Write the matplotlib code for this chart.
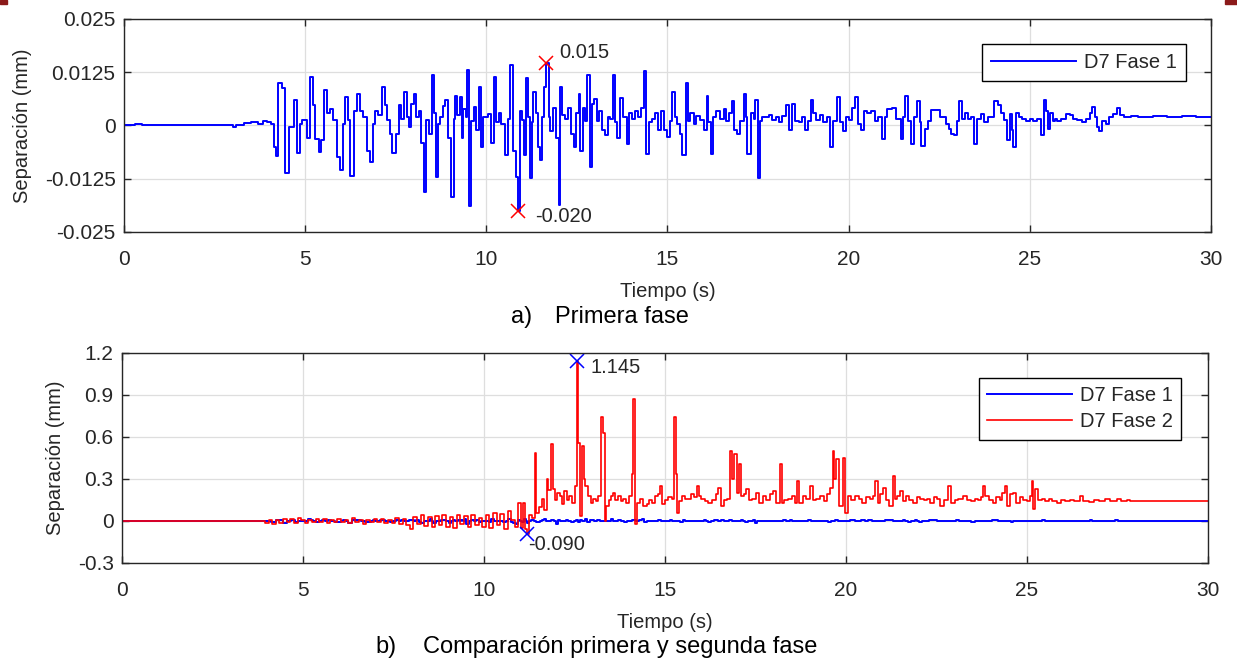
import numpy as np
import matplotlib
matplotlib.use('Agg')
import matplotlib.pyplot as plt
from matplotlib.patches import Rectangle

# Fase 1 (tiempo s, separacion mm)
t1 = [0.0, 0.3, 0.5, 0.8, 1.0, 1.2, 3.0, 3.1, 3.3, 3.5, 3.7, 3.85, 3.95, 4.05,
      4.13, 4.2, 4.26, 4.35, 4.45, 4.55, 4.68, 4.77, 4.85, 4.92, 5.05, 5.14, 5.22,
      5.28, 5.37, 5.45, 5.53, 5.6, 5.7, 5.78, 5.88, 5.97, 6.05, 6.1, 6.18, 6.24,
      6.35, 6.43, 6.52, 6.6, 6.7, 6.8, 6.88, 6.93, 7.0, 7.12, 7.2, 7.26, 7.33,
      7.4, 7.5, 7.58, 7.65, 7.72, 7.8, 7.86, 7.93, 8.0, 8.07, 8.13, 8.2, 8.27,
      8.35, 8.41, 8.5, 8.55, 8.6, 8.67, 8.73, 8.8, 8.87, 8.95, 9.03, 9.1, 9.14,
      9.2, 9.28, 9.33, 9.37, 9.43, 9.47, 9.51, 9.58, 9.65, 9.72, 9.79, 9.85,
      9.92, 10.0, 10.06, 10.13, 10.2, 10.28, 10.35, 10.42, 10.53, 10.6, 10.66,
      10.75, 10.81, 10.88, 10.94, 11.0, 11.05, 11.1, 11.15, 11.2, 11.25, 11.3,
      11.38, 11.44, 11.49, 11.55, 11.6, 11.66, 11.72, 11.77, 11.85, 11.93, 12.0,
      12.04, 12.1, 12.18, 12.26, 12.33, 12.41, 12.48, 12.55, 12.6, 12.66, 12.72,
      12.78, 12.85, 12.92, 12.98, 13.05, 13.12, 13.2, 13.29, 13.35, 13.42, 13.5,
      13.56, 13.62, 13.7, 13.78, 13.88, 13.95, 14.02, 14.1, 14.2, 14.28, 14.36,
      14.42, 14.5, 14.58, 14.66, 14.74, 14.81, 14.9, 14.99, 15.06, 15.13, 15.2,
      15.27, 15.34, 15.41, 15.5, 15.56, 15.63, 15.72, 15.8, 15.9, 16.0, 16.08,
      16.13, 16.19, 16.27, 16.35, 16.45, 16.55, 16.63, 16.7, 16.78, 16.85, 16.92,
      17.0, 17.11, 17.16, 17.2, 17.3, 17.38, 17.43, 17.49, 17.55, 17.62, 17.7,
      17.8, 17.9, 18.0, 18.08, 18.17, 18.26, 18.35, 18.44, 18.52, 18.62, 18.72,
      18.8, 18.88, 18.95, 19.02, 19.1, 19.2, 19.3, 19.4, 19.5, 19.58, 19.69,
      19.77, 19.85, 19.92, 20.01, 20.1, 20.19, 20.26, 20.34, 20.42, 20.52, 20.62,
      20.72, 20.8, 20.93, 21.0, 21.07, 21.2, 21.3, 21.44, 21.5, 21.57, 21.64,
      21.71, 21.8, 21.9, 21.96, 22.01, 22.1, 22.2, 22.28, 22.45, 22.52, 22.6,
      22.7, 22.77, 22.84, 22.91, 23.0, 23.05, 23.12, 23.2, 23.3, 23.38, 23.46,
      23.55, 23.65, 23.75, 23.85, 23.95, 24.02, 24.12, 24.2, 24.3, 24.38, 24.45,
      24.5, 24.55, 24.62, 24.7, 24.8, 24.9, 25.0, 25.1, 25.2, 25.3, 25.4, 25.45,
      25.5, 25.56, 25.63, 25.7, 25.76, 25.85, 25.99, 26.1, 26.2, 26.3, 26.45,
      26.55, 26.65, 26.73, 26.8, 26.87, 26.92, 27.0, 27.1, 27.2, 27.3, 27.42,
      27.5, 27.6, 27.8, 28.0, 28.4, 28.8, 29.2, 29.6, 30.0]
d1 = [0.0, 0.0003, 0.0, 0.0002, 0.0, 0.0, -0.0004, 0.0, 0.0006, 0.0008, 0.0004,
      0.001, 0.0008, 0.0004, -0.005, -0.0072, 0.0099, 0.0088, -0.0111, -0.0004,
      0.006, -0.0064, 0.0004, 0.0012, -0.0029, 0.0114, 0.0047, -0.0031, -0.0062,
      -0.0035, 0.0083, 0.003, 0.0039, 0.0012, -0.0074, -0.0105, 0.0004, 0.0066,
      0.0012, -0.0118, 0.0035, 0.0074, 0.0035, 0.002, -0.006, -0.0085, 0.0004,
      0.0035, 0.0025, 0.0091, 0.0047, 0.0012, -0.002, -0.0064, -0.002, 0.0047,
      0.0016, 0.0078, 0.002, -0.0004, 0.005, 0.0074, 0.002, 0.0035, -0.004,
      -0.0157, 0.0012, -0.002, 0.0118, 0.003, -0.012, 0.0004, 0.002, 0.0045,
      0.006, -0.003, -0.0167, 0.0016, 0.007, 0.0025, 0.0067, -0.003, 0.0039,
      0.002, 0.013, -0.019, 0.001, 0.0043, -0.001, 0.0091, -0.005, 0.002, 0.002,
      0.0027, -0.004, 0.0114, 0.0008, 0.003, 0.0004, -0.007, 0.0016, 0.0143,
      -0.006, -0.012, -0.0201, 0.0035, 0.0012, -0.007, 0.0112, 0.002, -0.0124,
      0.0008, 0.0078, 0.003, -0.005, -0.008, 0.002, 0.009, 0.0146, 0.002,
      -0.0012, 0.004, -0.003, -0.0186, 0.009, 0.0025, 0.0016, 0.004, -0.002,
      -0.005, 0.003, 0.0074, -0.006, 0.004, 0.001, 0.0118, -0.0097, 0.005,
      0.0062, 0.001, 0.0035, -0.001, -0.0023, 0.002, 0.0016, 0.0118, 0.0008,
      -0.003, 0.0065, 0.002, -0.0043, 0.003, 0.0016, 0.0035, 0.002, 0.004,
      0.0128, -0.0066, 0.0008, 0.0015, 0.003, -0.001, 0.0035, -0.001, -0.0027,
      0.001, 0.0078, 0.002, 0.0004, -0.002, -0.007, 0.01, 0.001, 0.003, 0.0004,
      0.0023, 0.0012, -0.001, 0.007, 0.0008, -0.0066, 0.002, 0.0035, 0.0016,
      0.0039, 0.001, 0.003, 0.0058, -0.001, -0.002, 0.001, 0.0074, 0.002,
      -0.0066, 0.003, 0.0016, 0.006, -0.0124, 0.001, 0.002, 0.002, 0.0025,
      0.0012, 0.002, 0.0008, 0.0023, 0.0047, -0.001, 0.005, 0.001, 0.0008,
      0.002, -0.001, 0.001, 0.006, 0.003, 0.0012, 0.0025, 0.0008, 0.002, -0.005,
      0.001, 0.0068, 0.0008, -0.0012, 0.002, 0.0012, 0.004, 0.0068, 0.0004,
      -0.001, 0.0035, 0.003, 0.0035, 0.001, 0.002, -0.0031, 0.002, 0.0039,
      0.0042, 0.0015, -0.0031, 0.002, 0.007, 0.001, -0.0043, 0.002, 0.0058,
      0.0008, -0.0047, -0.0008, 0.001, 0.0036, 0.0036, 0.002, 0.002, 0.0004,
      -0.0008, -0.002, -0.0023, 0.001, 0.0058, 0.0016, 0.003, 0.0016, 0.002,
      -0.0043, 0.0016, 0.0027, 0.0008, 0.002, 0.002, 0.0058, 0.0047, 0.003,
      0.0012, -0.0034, 0.0027, -0.001, -0.005, 0.003, 0.002, 0.0016, 0.001,
      0.0016, 0.001, 0.0016, -0.0023, 0.006, 0.0035, -0.0008, 0.003, 0.001,
      0.0016, 0.001, 0.0016, 0.0027, 0.0025, 0.0016, 0.0012, 0.0008, 0.0016,
      0.003, 0.0043, 0.002, -0.0004, -0.0012, 0.001, 0.0004, 0.002, 0.0027,
      0.004, 0.0025, 0.002, 0.0023, 0.002, 0.0022, 0.002, 0.0022, 0.002, 0.002]

# Fase 2
t2 = [0.0, 3.86, 3.95, 4.05, 4.15, 4.25, 4.35, 4.45, 4.55, 4.65, 4.75, 4.85,
      4.95, 5.05, 5.15, 5.25, 5.35, 5.45, 5.55, 5.65, 5.75, 5.85, 5.95, 6.05,
      6.15, 6.25, 6.35, 6.45, 6.55, 6.65, 6.75, 6.85, 6.95, 7.05, 7.15, 7.25,
      7.35, 7.45, 7.55, 7.65, 7.75, 7.85, 7.95, 8.05, 8.15, 8.25, 8.35, 8.45,
      8.55, 8.65, 8.75, 8.85, 8.95, 9.05, 9.15, 9.25, 9.35, 9.45, 9.55, 9.65,
      9.75, 9.85, 9.95, 10.05, 10.15, 10.25, 10.35, 10.45, 10.55, 10.65, 10.75,
      10.85, 10.95, 11.02, 11.09, 11.14, 11.18, 11.25, 11.32, 11.4, 11.45, 11.52,
      11.59, 11.65, 11.73, 11.78, 11.84, 11.9, 11.97, 12.03, 12.1, 12.16, 12.22,
      12.28, 12.35, 12.42, 12.5, 12.56, 12.6, 12.65, 12.7, 12.75, 12.8, 12.88,
      12.95, 13.02, 13.1, 13.16, 13.22, 13.3, 13.33, 13.38, 13.45, 13.5, 13.57,
      13.63, 13.7, 13.78, 13.85, 13.93, 14.0, 14.08, 14.12, 14.17, 14.22, 14.3,
      14.38, 14.49, 14.56, 14.63, 14.72, 14.8, 14.86, 14.93, 15.0, 15.08, 15.19,
      15.26, 15.3, 15.34, 15.4, 15.47, 15.55, 15.63, 15.72, 15.8, 15.87, 15.93,
      16.0, 16.1, 16.2, 16.3, 16.4, 16.47, 16.55, 16.62, 16.7, 16.8, 16.86, 16.9,
      16.98, 17.03, 17.1, 17.18, 17.25, 17.32, 17.4, 17.5, 17.6, 17.7, 17.8,
      17.9, 17.99, 18.07, 18.17, 18.22, 18.3, 18.4, 18.5, 18.58, 18.64, 18.7,
      18.8, 18.9, 19.0, 19.08, 19.18, 19.28, 19.38, 19.48, 19.56, 19.63, 19.68,
      19.72, 19.8, 19.91, 19.96, 20.05, 20.15, 20.25, 20.35, 20.45, 20.55, 20.65,
      20.75, 20.8, 20.88, 20.95, 21.03, 21.1, 21.2, 21.29, 21.35, 21.42, 21.49,
      21.57, 21.65, 21.75, 21.85, 21.95, 22.05, 22.15, 22.25, 22.32, 22.42,
      22.52, 22.6, 22.7, 22.83, 22.9, 23.0, 23.1, 23.24, 23.35, 23.45, 23.55,
      23.65, 23.72, 23.79, 23.85, 23.95, 24.05, 24.15, 24.25, 24.32, 24.39,
      24.45, 24.52, 24.6, 24.7, 24.8, 24.9, 25.0, 25.08, 25.13, 25.17, 25.22,
      25.3, 25.4, 25.5, 25.6, 25.7, 25.82, 25.95, 26.05, 26.2, 26.3, 26.47,
      26.55, 26.7, 26.85, 27.0, 27.15, 27.3, 27.48, 27.6, 27.75, 27.85, 30.0]
d2 = [0.0, 0.0, -0.015, 0.01, -0.02, 0.005, -0.012, 0.015, -0.01, 0.012, -0.015,
      0.02, 0.005, -0.012, 0.01, -0.008, 0.015, -0.01, 0.012, -0.015, 0.008,
      -0.005, 0.012, -0.01, 0.01, -0.015, 0.018, -0.008, 0.005, -0.02, 0.01,
      -0.005, 0.012, -0.01, 0.015, -0.012, 0.008, -0.015, 0.02, -0.025, 0.015,
      -0.03, -0.06, 0.03, -0.02, 0.04, -0.035, 0.025, -0.045, 0.035, -0.03,
      0.045, -0.04, 0.03, -0.05, 0.04, -0.025, 0.035, -0.045, 0.045, -0.03,
      0.02, -0.04, 0.04, -0.05, 0.06, -0.03, 0.05, -0.06, 0.07, 0.01, -0.04,
      0.13, -0.05, 0.131, -0.06, -0.09, 0.04, 0.02, 0.488, 0.06, 0.1, 0.155,
      0.08, 0.298, 0.22, 0.548, 0.226, 0.15, 0.2, 0.178, 0.12, 0.214, 0.15,
      0.178, 0.13, 0.25, 1.145, 0.56, 0.036, 0.536, 0.298, 0.25, 0.178, 0.131,
      0.16, 0.14, 0.178, 0.745, 0.631, 0.0, 0.107, 0.15, 0.178, 0.202, 0.15,
      0.178, 0.14, 0.155, 0.13, 0.18, 0.333, 0.874, -0.024, 0.131, 0.16, 0.11,
      0.119, 0.15, 0.131, 0.18, 0.19, 0.25, 0.119, 0.15, 0.17, 0.155, 0.745,
      0.333, 0.06, 0.14, 0.178, 0.16, 0.155, 0.19, 0.17, 0.25, 0.18, 0.155,
      0.14, 0.131, 0.15, 0.19, 0.238, 0.107, 0.15, 0.16, 0.5, 0.3, 0.476, 0.202,
      0.405, 0.178, 0.19, 0.226, 0.15, 0.155, 0.2, 0.131, 0.178, 0.15, 0.19,
      0.214, 0.131, 0.405, 0.131, 0.15, 0.155, 0.18, 0.13, 0.286, 0.131, 0.178,
      0.16, 0.25, 0.15, 0.155, 0.18, 0.14, 0.19, 0.238, 0.5, 0.3, 0.44, 0.107,
      0.453, 0.06, 0.178, 0.15, 0.18, 0.155, 0.131, 0.17, 0.16, 0.18, 0.286,
      0.131, 0.19, 0.238, 0.15, 0.107, 0.321, 0.155, 0.18, 0.214, 0.14, 0.178,
      0.15, 0.131, 0.17, 0.155, 0.15, 0.16, 0.131, 0.17, 0.155, 0.107, 0.15,
      0.25, 0.131, 0.15, 0.16, 0.178, 0.15, 0.14, 0.155, 0.15, 0.17, 0.25,
      0.178, 0.15, 0.131, 0.17, 0.15, 0.2, 0.25, 0.107, 0.19, 0.202, 0.131,
      0.17, 0.15, 0.14, 0.18, 0.286, 0.083, 0.226, 0.15, 0.155, 0.14, 0.16,
      0.14, 0.131, 0.15, 0.14, 0.15, 0.143, 0.175, 0.143, 0.135, 0.15, 0.143,
      0.155, 0.143, 0.155, 0.143, 0.15, 0.143, 0.143]

yticks1 = [-0.025, -0.0125, 0, 0.0125, 0.025]
ylabels1 = ['-0.025', '-0.0125', '0', '0.0125', '0.025']
yticks2 = [-0.3, 0, 0.3, 0.6, 0.9, 1.2]
ylabels2 = ['-0.3', '0', '0.3', '0.6', '0.9', '1.2']
xticks = [0, 5, 10, 15, 20, 25, 30]

plt.rcParams['font.family'] = ['Liberation Sans', 'DejaVu Sans']
dark = '#262626'


def style_axes(ax, yt, yl, ylim):
    ax.set_xlim(0, 30)
    ax.set_ylim(*ylim)
    ax.set_xticks(xticks)
    ax.set_yticks(yt)
    ax.set_yticklabels(yl)
    ax.grid(True, color='#dedede', linewidth=0.9)
    ax.set_axisbelow(True)
    ax.tick_params(direction='in', top=True, right=True, length=5, width=1,
                   colors=dark, labelsize=15)
    ax.tick_params(axis='x', pad=13)
    ax.tick_params(axis='y', pad=6)
    for s in ax.spines.values():
        s.set_color(dark)
        s.set_linewidth(1)
    ax.set_xlabel('Tiempo (s)', fontsize=14.5, color=dark, labelpad=9)
    ax.set_ylabel('Separación (mm)', fontsize=14.5, color=dark, labelpad=9)


fig = plt.figure(figsize=(12.37, 6.68), dpi=100)
ax1 = fig.add_axes([0.1002, 0.6527, 0.8787, 0.3189])
ax2 = fig.add_axes([0.0986, 0.1572, 0.878, 0.3144])

# a) primera fase
ax1.plot(t1, d1, color='blue', linewidth=1.4, drawstyle='steps-post', label='D7 Fase 1')
style_axes(ax1, yticks1, ylabels1, (-0.025, 0.025))
i_max = int(np.argmax(d1))
i_min = int(np.argmin(d1))
ax1.plot([t1[i_max], t1[i_min]], [d1[i_max], d1[i_min]], 'x', color='red',
         markersize=10, markeredgewidth=1.1)
ax1.annotate(f'{d1[i_max]:.3f}', (t1[i_max], d1[i_max]), xytext=(9, 8),
             textcoords='offset points', fontsize=14.5, color=dark, va='center')
ax1.annotate(f'{d1[i_min]:.3f}', (t1[i_min], d1[i_min]), xytext=(12, -4),
             textcoords='offset points', fontsize=14.5, color=dark, va='center')
leg1 = ax1.legend(loc='upper right', bbox_to_anchor=(0.977, 0.882), fontsize=14.5,
                  fancybox=False, edgecolor='black', framealpha=1, handlelength=4.2,
                  handletextpad=0.4, borderpad=0.45, borderaxespad=0, labelcolor=dark)
leg1.get_frame().set_linewidth(1)

# b) comparacion
ax2.plot(t1, d1, color='blue', linewidth=1.4, drawstyle='steps-post', label='D7 Fase 1')
ax2.plot(t2, d2, color='red', linewidth=1.2, drawstyle='steps-post', label='D7 Fase 2')
style_axes(ax2, yticks2, ylabels2, (-0.3, 1.2))
j_max = int(np.argmax(d2))
j_min = int(np.argmin(d2))
ax2.plot([t2[j_max], t2[j_min]], [d2[j_max], d2[j_min]], 'x', color='blue',
         markersize=10, markeredgewidth=1.1)
ax2.annotate(f'{d2[j_max]:.3f}', (t2[j_max], d2[j_max]), xytext=(10, -5),
             textcoords='offset points', fontsize=14.5, color=dark, va='center')
ax2.annotate(f'{d2[j_min]:.3f}', (t2[j_min], d2[j_min]), xytext=(1, -8),
             textcoords='offset points', fontsize=14.5, color=dark, va='center')
leg2 = ax2.legend(loc='upper right', bbox_to_anchor=(0.975, 0.879), fontsize=14.5,
                  fancybox=False, edgecolor='black', framealpha=1, handlelength=4.2,
                  handletextpad=0.4, borderpad=0.4, borderaxespad=0,
                  labelspacing=0.35, labelcolor=dark)
leg2.get_frame().set_linewidth(1)

# leyendas de las figuras
fig.text(0.4131, 0.525, 'a)', fontsize=17, va='center')
fig.text(0.4487, 0.525, 'Primera fase', fontsize=17, va='center')
fig.text(0.3032, 0.031, 'b)', fontsize=17, va='center')
fig.text(0.342, 0.031, 'Comparación primera y segunda fase', fontsize=17, va='center')

# franja superior del documento
fig.patches.append(Rectangle((0, 0.994), 0.006, 0.006, transform=fig.transFigure,
                             color='#8b1a1a'))
fig.patches.append(Rectangle((0.99, 0.994), 0.01, 0.006, transform=fig.transFigure,
                             color='#8b1a1a'))

fig.savefig('out.png', dpi=100)
